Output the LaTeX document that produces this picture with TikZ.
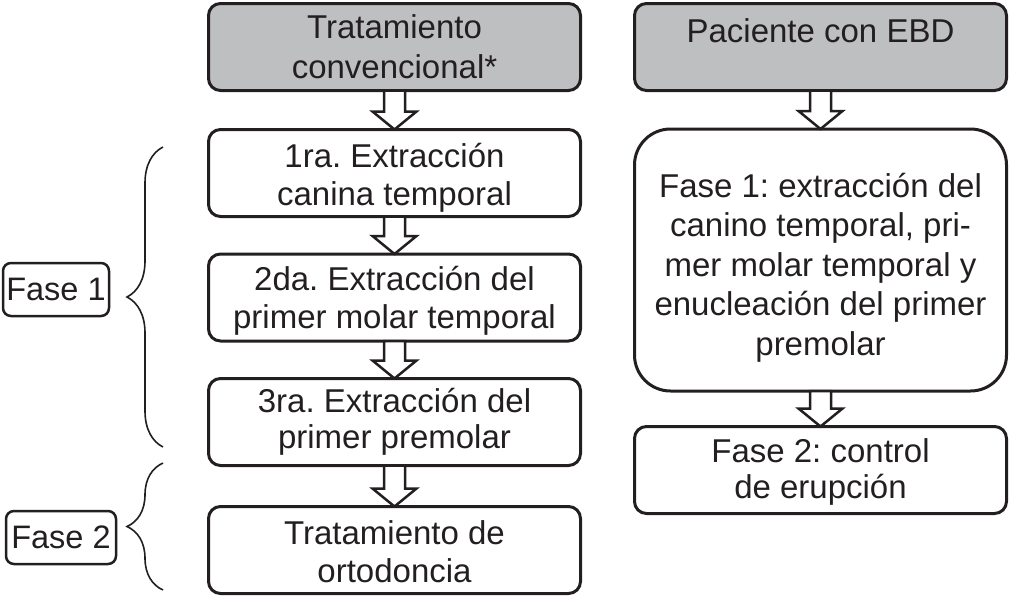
\documentclass[tikz,border=0pt]{standalone}
\usepackage{fontspec}
\setmainfont{Liberation Sans}
\frenchspacing
\usetikzlibrary{calc,decorations.pathreplacing}
\definecolor{boxgray}{RGB}{190,191,193}
\definecolor{ink}{RGB}{35,31,32}
\newcommand{\tstrut}[1]{\rule{0pt}{#1}}
\newcommand{\blockarr}[2]{%
  \draw[barrow] let \p1=(#1.south), \p2=(#2.north) in
    (\x1-10.5pt,\y1) -- (\x1-10.5pt,\y2+18pt) -- (\x1-22pt,\y2+18pt) --
    (\x1,\y2) -- (\x1+22pt,\y2+18pt) -- (\x1+10.5pt,\y2+18pt) --
    (\x1+10.5pt,\y1) -- cycle;}
\begin{document}
\begin{tikzpicture}[x=1pt,y=-1pt,
  box/.style={draw=ink, text=ink, line width=3pt, rounded corners=12pt,
    minimum width=372pt, minimum height=87pt, align=center,
    inner sep=0pt, outer sep=0pt, font=\fontsize{33}{38}\selectfont},
  grayfill/.style={fill=boxgray},
  phase/.style={draw=ink, text=ink, line width=2.5pt, rounded corners=8pt,
    minimum height=53pt, inner sep=0pt, outer sep=0pt,
    font=\fontsize{32.5}{37}\selectfont},
  barrow/.style={draw=ink, fill=white, line width=2.5pt},
  bracepath/.style={draw=ink, line width=1.6pt, decorate,
    decoration={brace, amplitude=36pt, aspect=0.5}}
]
\useasboundingbox (0,0) rectangle (1009,598);

% left column
\node[box,grayfill,font=\fontsize{33}{40}\selectfont] (A) at (394.5,47)
  {Tratamiento\\convencional*};
\node[box] (B) at (394.5,173) {\tstrut{33pt}1ra. Extracción\\canina temporal};
\node[box] (C) at (394.5,297.5) {\tstrut{30pt}2da. Extracción del\\primer molar temporal};
\node[box,font=\fontsize{33}{36}\selectfont] (D) at (394.5,422)
  {3ra. Extracción del\\primer premolar};
\node[box] (E) at (394.5,550) {\tstrut{28pt}Tratamiento de\\ortodoncia};

% right column
\node[box,grayfill,text depth=32pt] (F) at (820.5,47) {Paciente con EBD};
\node[box,minimum height=262pt,rounded corners=36pt,
  font=\fontsize{33}{39.5}\selectfont] (G) at (820.5,260)
  {\tstrut{39pt}Fase 1: extracción del\\canino temporal, pri-\\mer molar temporal y\\enucleación del primer\\premolar};
\node[box,font=\fontsize{33}{36}\selectfont] (H) at (820.5,470)
  {\tstrut{27pt}Fase 2: control\\de erupción};

% block arrows
\blockarr{A}{B}
\blockarr{B}{C}
\blockarr{C}{D}
\blockarr{D}{E}
\blockarr{F}{G}
\blockarr{G}{H}

% phase labels
\node[phase,minimum width=106pt] (P1) at (56,289.5) {Fase 1};
\node[phase,minimum width=110pt] (P2) at (61,537.5) {Fase 2};

% braces
\coordinate (b1top) at (163,147);
\coordinate (b1bot) at (163,447);
\coordinate (b2top) at (163,463);
\coordinate (b2bot) at (163,590);
\draw[bracepath] (b1bot) -- (b1top);
\draw[bracepath] (b2bot) -- (b2top);
\end{tikzpicture}
\end{document}
